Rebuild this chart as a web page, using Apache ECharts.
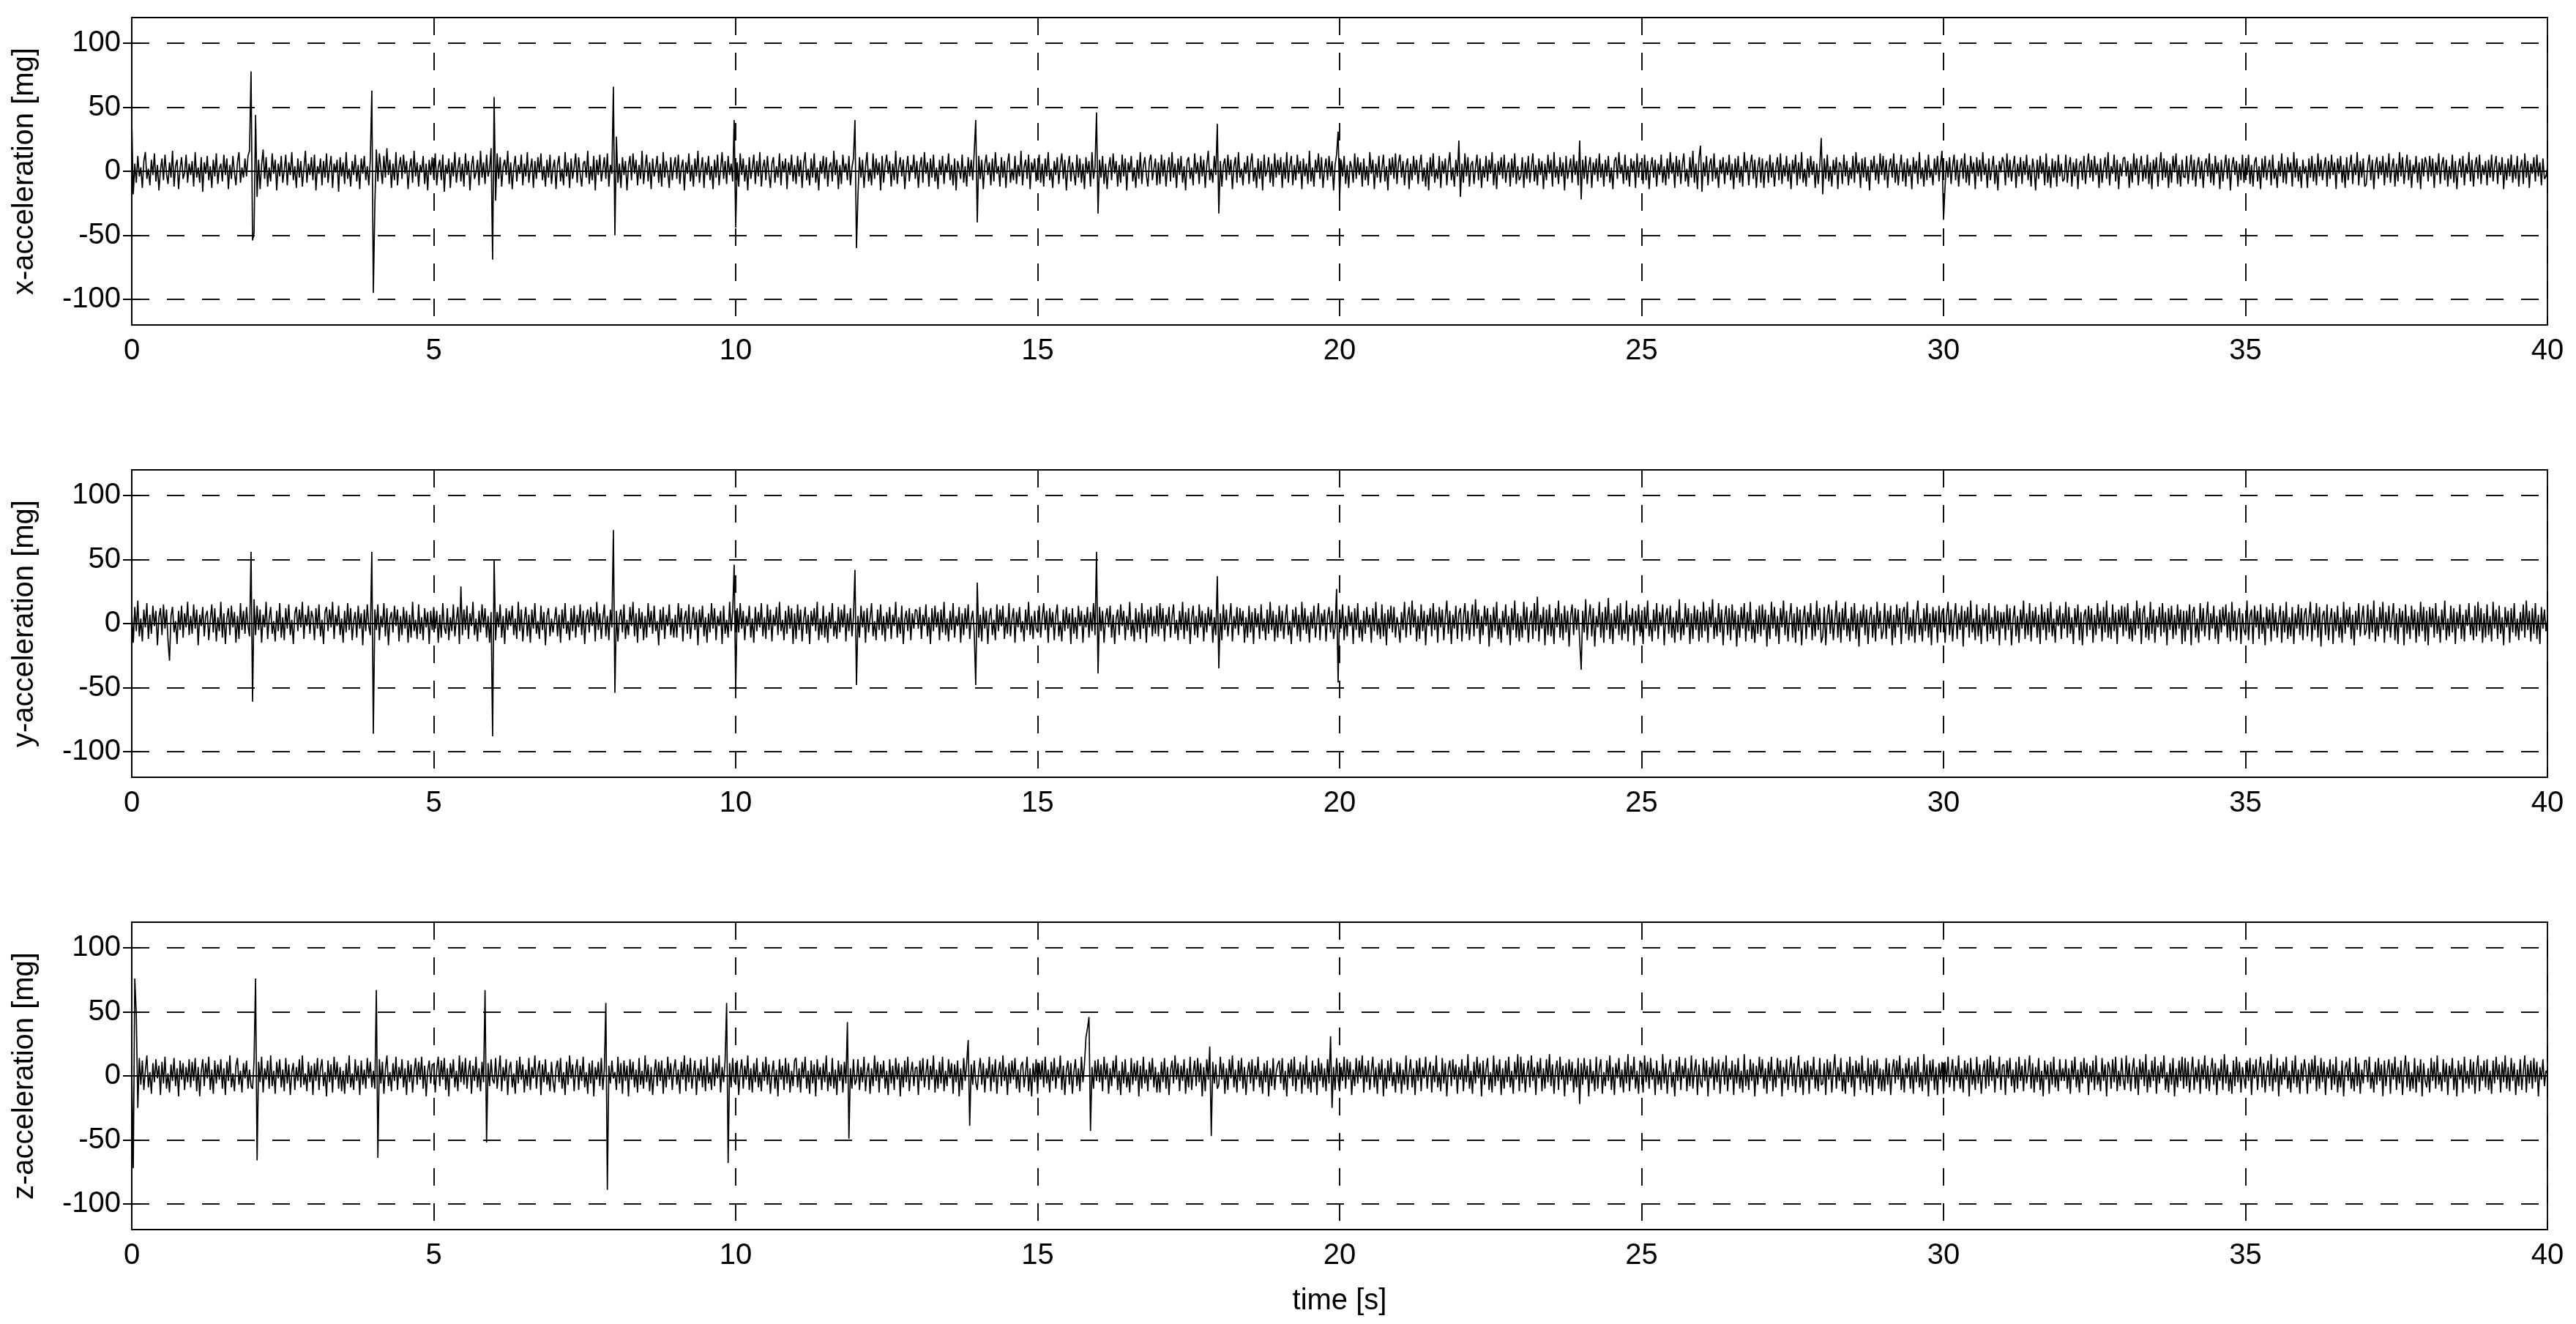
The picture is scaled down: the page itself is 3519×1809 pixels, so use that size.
<!DOCTYPE html>
<html>
<head>
<meta charset="utf-8">
<title>acceleration</title>
<script src="https://cdn.jsdelivr.net/npm/echarts@6/dist/echarts.min.js"></script>
<style>
  html, body { margin: 0; padding: 0; background: #fff; }
  #chart { width: 3519px; height: 1809px; }
</style>
</head>
<body>
<div id="chart"></div>
<script>
// one row per second, 40 samples in a row (0.025 s apart)
const timeTicks = [0, 5, 10, 15, 20, 25, 30, 35, 40];
const accelTicks = [-100, -50, 0, 50, 100];
const panelNames = ["x-acceleration [mg]", "y-acceleration [mg]", "z-acceleration [mg]"];

const xAccel = [
  [40,-18,6,-9,12,-4,3,-13,8,15,-6,2,-11,9,-3,14,-8,5,-15,1,10,-7,13,-2,-10,7,-5,16,-12,4,9,-14,2,11,-6,-1,13,-9,6,-3],
  [8,-12,15,-5,3,-9,11,-16,7,-2,12,-7,4,-13,9,-4,14,-10,2,6,-8,13,-3,10,-14,5,-6,12,-1,-11,7,15,-9,3,-5,10,-4,12,16,78],
  [-54,-48,44,-20,9,-14,5,17,-6,11,-12,3,-8,14,-2,9,-15,6,-4,12,-9,1,13,-11,7,-3,15,-7,4,-13,10,-5,8,-12,2,16,-9,6,-3,11],
  [-7,13,-15,4,-2,10,-11,8,-5,14,-9,3,12,-13,6,-1,9,-16,11,-4,7,-10,15,-6,2,-12,8,-3,13,-8,5,-14,10,-2,12,-7,4,-11,9,63],
  [-95,-26,17,-8,14,2,-10,12,-5,18,-3,9,-13,6,-7,15,-11,4,11,-6,13,-2,8,-14,3,10,-9,16,-4,7,-12,5,-1,12,-10,6,-15,9,-3,11],
  [-6,14,-11,3,9,-7,13,-16,5,-2,10,-13,7,-4,15,-9,2,11,-8,6,-12,14,-3,8,-15,4,12,-6,-1,9,-11,16,-5,7,-10,13,-4,2,18,-69],
  [58,-23,14,-6,11,-12,4,9,-3,16,-10,7,-14,3,12,-8,5,-2,13,-11,6,-4,15,-9,2,10,-13,8,-6,11,-1,14,-7,4,-12,9,-5,13,-10,3],
  [9,-14,5,12,-8,2,-11,15,-4,7,-13,10,-6,3,14,-9,11,-2,-12,6,8,-5,16,-10,4,-7,12,-15,9,-3,13,-8,1,11,-6,14,-12,5,-2,66],
  [-50,27,-9,6,-13,11,-3,8,-15,4,12,-7,14,-2,9,-11,5,-6,16,-10,3,13,-8,7,-14,10,-4,2,12,-9,6,-12,15,-5,8,-1,-13,11,-7,4],
  [11,-6,13,-10,3,9,-15,7,-2,14,-8,5,-12,10,-4,16,-9,2,11,-13,7,-3,12,-7,4,-14,9,-5,13,-11,2,15,-6,8,-10,12,-3,6,-8,40],
  [-44,7,-12,14,-3,10,-8,5,-15,11,-6,2,13,-10,8,-4,15,-12,3,9,-7,12,-2,-13,6,11,-9,4,-5,14,-11,8,-1,10,-14,7,-3,13,-8,5],
  [-10,12,-4,9,-13,6,15,-7,2,-11,10,-5,14,-9,3,-15,8,-2,12,-6,11,-12,4,7,-8,16,-3,9,-14,5,-10,13,-1,6,-7,12,-11,3,10,40],
  [-60,-18,11,-5,9,-13,4,15,-8,2,-11,14,-6,10,-3,7,-15,12,-9,5,13,-2,8,-12,6,-7,16,-10,3,11,-4,9,-14,2,12,-8,5,-1,13,-6],
  [8,-13,4,11,-9,15,-2,7,-12,10,-5,13,-8,3,-14,9,-3,12,-10,6,-1,14,-7,5,-11,10,-15,8,2,-6,13,-9,4,-12,11,-4,9,-7,15,40],
  [-40,12,-6,9,-14,5,13,-3,7,-11,10,-8,15,-2,4,-12,11,-5,8,-13,6,14,-9,2,-7,12,-10,5,-4,16,-11,3,9,-6,13,-14,7,-1,10,-8],
  [4,13,-9,6,-12,10,-4,15,-7,2,-13,8,-3,11,-10,5,14,-6,9,-15,3,12,-8,7,-1,-11,13,-5,10,-9,6,-14,11,-2,8,-12,15,-6,3,46],
  [-33,9,-5,12,-10,6,-14,3,11,-7,14,-2,8,-12,5,-9,13,-4,10,-15,7,-1,12,-8,3,-13,9,-6,15,-10,4,11,-3,-12,8,13,-7,2,10,-11],
  [7,-10,13,-4,9,-12,2,11,-8,15,-5,6,-13,10,-3,12,-9,4,-15,8,11,-6,3,-11,14,-2,7,-10,12,-4,9,-13,5,16,-7,2,-9,12,-3,37],
  [-33,8,-12,5,10,-7,13,-3,9,-14,4,11,-9,15,-5,2,-11,7,-2,12,-10,6,14,-8,3,-13,10,-6,8,-15,13,-4,1,11,-9,6,-12,14,-5,9],
  [-3,11,-13,7,-6,15,-9,4,12,-11,5,-7,13,-2,8,-14,10,-4,6,-10,16,-8,3,-12,9,-1,14,-6,11,-13,2,10,-7,12,-4,8,-15,5,13,31],
  [-21,9,-4,12,-10,5,-13,8,3,-9,14,-6,11,-3,7,-12,10,-7,4,-11,15,-2,9,-14,6,-5,12,-9,2,13,-8,4,-15,10,-3,11,-6,14,-10,7],
  [13,-5,8,-11,4,10,-14,6,-7,12,-3,9,-10,5,13,-8,3,-12,7,-15,11,-4,14,-9,2,-6,12,-13,8,-2,10,-11,5,15,-7,3,-12,9,-4,24],
  [-20,6,-9,14,-4,11,-12,5,8,-10,3,13,-7,10,-13,4,-5,12,-8,9,-2,15,-11,6,-14,8,-3,11,-6,13,-9,2,7,-12,10,-5,14,-10,4,-7],
  [-4,11,-13,7,-6,12,-9,3,14,-8,5,-11,10,-3,8,-14,6,-7,13,-2,9,-12,15,-5,4,-10,11,-4,7,-15,12,-6,2,10,-9,13,-3,8,-11,24],
  [-22,9,-6,12,-10,4,11,-13,7,-3,10,-8,14,-5,6,-12,9,-4,12,-9,3,-14,8,11,-6,15,-2,5,-10,13,-7,4,-12,10,-1,8,-13,14,-5,7],
  [5,-10,13,-7,8,-14,3,11,-5,9,-12,6,-3,13,-9,4,-11,10,-6,15,-2,7,-13,12,-4,9,-10,5,14,-8,2,-12,11,-5,16,-9,6,-14,10,20],
  [-16,7,-4,12,-11,5,10,-8,14,-6,3,-13,9,-2,11,-10,7,-3,13,-7,6,-14,10,-5,12,-9,4,-12,15,-1,8,-11,5,13,-6,9,-13,3,11,-9],
  [10,-13,4,8,-9,13,-5,7,-12,3,11,-7,14,-10,5,-4,12,-8,6,-14,9,-2,13,-11,7,-6,15,-9,2,-12,10,-5,12,-3,8,-13,6,-10,4,26],
  [-18,10,-6,13,-8,4,-12,9,-3,11,-14,7,5,-10,13,-4,8,-11,3,-6,12,-9,15,-2,7,-13,10,-5,11,-8,4,-15,9,-1,12,-7,6,-10,14,-3],
  [12,-7,9,-13,4,10,-5,14,-9,6,-11,3,13,-8,7,-12,10,-4,5,-14,11,-2,8,-10,15,-6,3,-12,9,-7,13,-5,2,-11,10,-3,12,-8,6,16],
  [-38,-12,8,-5,11,-10,4,13,-7,9,-12,3,10,-6,14,-9,5,-11,12,-2,7,-14,11,-4,9,-8,15,-3,6,-13,10,-7,2,12,-10,5,-15,8,-1,11],
  [7,-11,14,-5,9,-8,3,12,-13,6,-4,11,-10,8,-3,13,-7,5,-12,10,2,-15,9,-6,12,-2,7,-11,14,-9,4,-13,10,-5,8,-12,13,-4,6,-8],
  [-6,13,-9,4,11,-12,7,-4,10,-14,5,8,-7,12,-10,3,14,-5,9,-8,12,-3,6,-13,10,-9,2,11,-6,15,-11,4,-2,13,-8,9,-14,6,-4,10],
  [11,-4,8,-13,6,-9,14,-3,10,-11,4,12,-8,5,-6,13,-10,7,-14,9,-2,11,-12,3,15,-7,10,-5,8,-13,6,-9,12,-1,14,-10,5,-12,9,-4],
  [-5,12,-10,3,13,-7,9,-12,4,11,-6,8,-13,5,10,-4,14,-9,6,-11,12,-2,7,-14,9,-8,3,13,-6,10,-15,4,11,-3,8,-12,6,-7,13,-9],
  [8,-3,13,-10,5,-12,7,11,-8,4,-14,10,-5,12,-7,3,9,-11,13,-6,2,-13,8,-4,14,-9,6,-10,11,-1,7,-12,15,-5,10,-8,4,-13,9,-2],
  [4,-13,10,-5,12,-8,6,-11,14,-4,9,-7,3,11,-12,8,-6,13,-3,7,-14,10,-2,12,-9,5,-13,11,-7,4,13,-10,6,-3,15,-11,8,-5,10,-12],
  [-10,5,13,-7,9,-14,4,11,-6,8,-3,12,-11,7,-5,14,-9,3,10,-12,6,-8,15,-4,11,-10,2,13,-7,9,-13,5,-2,12,-9,7,-14,10,-4,11],
  [6,-8,12,-4,10,-13,7,-3,14,-10,5,11,-7,9,-12,4,-6,13,-9,8,-14,3,10,-5,12,-11,6,-2,15,-8,9,-12,4,11,-6,13,-10,5,-3,8],
  [-11,9,-5,13,-8,4,12,-10,7,-3,11,-14,6,-7,10,-4,13,-9,5,-6,12,-12,3,9,-10,14,-5,8,-13,6,-2,11,-8,13,-4,7,-11,10,-6,-4],
  [3]
];

const yAccel = [
  [9,-15,13,-6,18,-10,4,-14,11,-3,16,-12,7,-8,14,-2,10,-17,5,12,-9,15,-4,11,-13,-29,6,13,-7,2,-16,10,-5,14,-11,8,-3,17,-9,6],
  [-8,15,-4,11,-17,7,-2,13,-10,6,10,-13,3,15,-7,12,-14,5,-6,17,-11,8,-16,4,12,-9,14,-3,9,-15,6,-12,16,-5,10,-8,13,-2,-10,56],
  [-61,19,-9,14,-5,11,-15,7,-3,17,-12,4,13,-8,2,-14,10,-6,16,-11,5,-13,12,-4,15,-9,3,-16,8,13,-6,11,-3,17,-12,7,-2,14,-8,10],
  [5,-13,12,-4,15,-10,3,-16,9,13,-6,11,-3,17,-12,7,-2,14,-9,4,-15,10,-7,16,-5,12,-13,2,9,-11,14,-4,8,-17,11,-6,15,-2,-9,56],
  [-86,11,-5,15,-13,6,-3,16,-10,12,-17,4,9,-7,14,-2,11,-14,6,-9,13,-4,10,-15,7,-11,17,-6,3,-12,15,-8,5,-13,12,-3,9,-16,10,-5],
  [13,-4,10,-15,7,-11,16,-3,-8,12,-13,5,-6,15,-10,3,13,-16,29,-9,11,-5,14,-12,8,-2,17,-9,4,-14,10,-7,15,-3,12,-11,6,-15,9,-88],
  [50,-13,9,-3,15,-11,6,-16,12,-5,10,-2,14,-9,4,-12,17,-6,11,-14,3,13,-10,7,-15,11,-4,16,-8,2,-12,14,-5,9,-17,6,12,-10,4,-7],
  [3,13,-10,7,-15,11,-4,16,-8,2,-13,12,-6,14,-11,7,-3,15,-9,10,-16,5,11,-7,13,-2,9,-14,17,-5,8,-12,4,15,-10,6,-13,11,-3,73],
  [-54,10,-14,5,11,-7,15,-12,3,-9,13,-2,17,-10,8,-15,12,-4,9,-13,6,-11,16,-3,10,-8,14,-6,2,-17,11,-5,13,-12,7,-2,15,-9,4,-11],
  [7,-11,16,-3,12,-14,4,10,-8,15,-12,2,13,-5,9,-17,11,-3,14,-10,5,-15,8,-7,16,-4,12,-13,6,-2,10,-16,14,-8,3,-11,17,-6,9,46],
  [-52,12,-7,16,-4,10,-13,6,-2,14,-11,4,-15,13,-6,9,-3,16,-10,5,-12,15,-5,11,-14,7,-2,13,-9,17,-6,3,-13,10,-8,14,-4,12,-16,8],
  [-12,15,-5,11,-14,3,13,-8,7,-16,10,-2,12,-6,17,-13,4,-9,14,-11,6,-15,9,-4,16,-10,2,-12,13,-7,11,-3,15,-14,8,-6,12,-10,5,42],
  [-48,6,-11,14,-3,10,-15,12,-7,4,16,-10,2,-13,11,-5,15,-9,6,-14,9,-4,13,-12,7,-2,17,-11,5,-8,14,-16,3,10,-6,12,-13,8,-4,11],
  [10,-4,13,-12,7,-2,15,-10,5,-16,12,-6,14,-3,9,-13,11,-7,17,-9,4,-14,10,-5,16,-11,6,-2,13,-15,8,-9,12,-4,15,-12,3,10,-7,-48],
  [32,-11,7,-14,13,-4,10,-16,6,12,-9,3,-13,15,-6,11,-2,14,-12,5,-8,16,-10,4,12,-15,9,-3,13,-7,2,-14,11,-5,17,-9,6,-12,10,-4],
  [-7,14,-11,4,16,-5,10,-15,12,-3,9,-13,6,15,-10,2,-14,11,-6,13,-4,8,-16,12,-8,5,-12,14,-2,10,-15,7,-3,13,-11,9,-6,16,-9,56],
  [-39,13,-6,10,-15,5,12,-3,14,-11,7,-16,4,11,-9,15,-2,10,-13,6,-5,17,-10,3,-14,12,-7,9,-12,16,-4,8,-15,11,-3,13,-10,6,-8,14],
  [-10,16,-4,12,-14,7,-2,13,-11,5,15,-8,3,-13,10,-5,17,-12,9,-6,12,-16,4,14,-9,6,-11,15,-3,10,-14,8,-7,13,-2,11,-15,5,-9,37],
  [-35,8,-13,15,-5,11,-10,3,16,-14,6,-4,13,-9,12,-2,10,-15,5,-11,14,-7,9,-16,12,-3,8,-12,15,-6,4,-13,11,-8,17,-5,10,-14,7,-11],
  [14,-6,10,-12,4,15,-9,2,-16,11,-3,13,-10,7,-14,17,-5,12,-8,6,-15,9,-4,14,-11,3,16,-13,8,-2,11,-14,5,13,-7,10,-12,-3,27,-46],
  [11,-4,15,-13,6,-10,14,-2,9,-16,12,-5,16,-11,3,-14,10,-8,13,-3,7,-15,12,-6,17,-9,4,-12,15,-10,8,-17,11,-4,14,-7,13,-11,5,-2],
  [-15,9,-5,17,-11,4,13,-9,18,-3,11,-14,6,-12,15,-6,10,-17,7,-2,12,-10,16,-5,9,-15,13,-3,11,-13,5,18,-8,10,-16,7,-4,14,-12,8],
  [12,-14,5,16,-8,10,-13,3,15,-10,19,-4,11,-16,6,-9,14,-2,12,-18,7,-11,13,-6,17,-12,4,-15,10,-3,15,-9,6,-17,12,-5,18,-11,8,-14],
  [6,-11,17,-5,13,-15,3,10,-12,16,-6,21,-14,7,-4,13,-17,11,-9,15,-10,5,-16,12,-3,18,-11,8,-13,14,-7,10,-18,6,15,-9,12,-5,11,-13],
  [-36,10,-7,19,-13,5,15,-10,12,-18,6,-3,17,-11,9,-15,13,-5,20,-12,8,-16,11,-4,14,-9,16,-13,3,-8,18,-14,7,-2,12,-17,10,-6,15,-10],
  [7,-16,13,-4,18,-10,3,-14,11,-6,16,-12,9,-2,15,-17,6,12,-8,14,-11,5,-15,10,-7,19,-13,4,-9,16,-3,12,-16,8,-12,14,-5,11,-14,9],
  [-11,17,-6,10,-15,13,-3,19,-12,5,-10,16,-7,11,-17,4,14,-9,12,-13,15,-5,10,-18,7,-11,13,-4,16,-14,9,-6,17,-12,3,-15,11,-8,14,-10],
  [15,-5,11,-18,7,-12,17,-4,13,-10,6,-16,12,-3,18,-9,10,-14,5,16,-11,8,-15,13,-6,11,-17,4,14,-12,9,-3,16,-13,7,-10,18,-5,12,-15],
  [-10,13,-17,6,15,-8,11,-13,3,18,-11,9,-15,12,-5,17,-10,4,-14,13,-6,16,-12,8,-18,10,-3,15,-9,11,-16,5,13,-11,7,-14,17,-4,10,-12],
  [-6,16,-12,10,-4,14,-17,7,-11,15,-3,12,-16,9,13,-8,17,-13,5,-10,11,-15,6,18,-9,4,-14,12,-6,16,-11,8,-17,13,-3,10,-15,14,-7,9],
  [12,-15,6,17,-9,11,-14,4,16,-12,8,-5,14,-18,10,-3,13,-11,18,-7,4,-13,15,-10,7,-16,12,-2,11,-14,16,-8,5,-12,14,-6,10,-17,9,-4],
  [9,-13,15,-5,12,-17,3,14,-10,6,-15,11,-4,18,-12,8,-9,16,-14,10,-3,13,-11,7,-16,15,-5,9,-13,12,-7,17,-10,4,-15,11,-2,14,-12,8],
  [-4,17,-11,13,-8,5,-16,12,-3,15,-13,9,-17,6,11,-10,14,-5,12,-15,7,-9,16,-4,10,-14,13,-7,18,-11,5,-12,15,-6,9,-16,11,-3,14,-10],
  [13,-6,16,-12,4,-14,10,-9,18,-4,12,-16,8,14,-11,5,-13,17,-8,11,-15,6,-3,13,-10,16,-7,9,-17,12,-5,14,-12,7,-9,15,-4,11,-16,10],
  [-14,10,-5,15,-17,9,13,-11,4,-15,16,-6,12,-10,3,17,-13,8,-4,14,-12,6,-16,11,-7,13,-2,15,-11,9,-14,17,-6,10,-13,4,12,-16,8,-5],
  [-9,18,-13,6,11,-16,14,-3,10,-12,15,-8,5,-17,13,-4,11,-14,16,-6,9,-11,3,14,-15,10,-7,17,-12,5,-10,13,-16,8,-4,15,-9,12,-13,7],
  [12,-10,4,17,-14,8,-5,16,-11,13,-18,6,10,-9,15,-13,3,12,-16,9,-6,14,-11,5,-15,17,-8,11,-3,13,-12,7,-17,10,-5,16,-10,4,14,-9],
  [-5,15,-12,11,-7,18,-14,5,-10,13,-4,17,-15,9,-6,14,-11,4,16,-13,8,-16,12,-3,10,-17,15,-8,6,-12,14,-5,11,-15,9,-10,17,-6,13,-14],
  [10,-17,13,-3,12,-11,16,-8,6,-15,11,-5,18,-13,4,-10,14,-7,12,-16,9,-4,15,-12,7,-14,11,-2,16,-9,5,-13,14,-10,17,-6,12,-15,8,-11],
  [15,-9,6,-14,17,-4,11,-12,14,-8,5,-17,13,-3,10,-15,12,-7,16,-10,4,-13,9,-6,15,-11,18,-5,10,-14,12,-8,16,-12,7,-16,13,-4,11,-6],
  [4]
];

const zAccel = [
  [5,-72,76,48,-25,14,-7,12,-11,4,16,-9,3,-14,10,-5,13,-2,8,-15,11,-6,15,-10,2,-13,9,-4,14,-8,6,-16,12,-3,10,-11,7,-5,13,-9],
  [11,-4,14,-12,7,-16,3,13,-8,10,-2,15,-11,5,-14,12,-6,9,-3,13,-10,6,-15,11,-4,16,-9,2,-12,8,14,-7,4,-13,10,-2,12,-10,5,-8],
  [-10,12,76,-66,11,-5,15,-13,6,-3,12,-10,16,-8,4,-14,11,-2,13,-9,5,-12,14,-6,9,-15,3,10,-11,7,-4,13,-9,16,-7,2,-12,11,-5,8],
  [-15,10,-4,14,-11,6,13,-8,3,-16,12,-5,9,-13,15,-3,11,-10,7,-12,4,-14,10,-6,16,-9,2,-11,13,-4,8,-15,12,-7,5,-10,14,-2,11,-9],
  [4,-10,67,-64,13,-6,11,-14,5,16,-8,3,-12,10,-4,15,-11,7,-2,13,-9,6,-15,12,-5,9,-13,3,14,-7,11,-3,15,-10,8,-16,4,12,-6,9],
  [9,-13,5,15,-8,12,-3,14,-11,6,-16,10,-2,13,-9,4,-12,16,-5,11,-7,14,-10,3,12,-14,8,-4,15,-9,6,-12,11,-5,67,-52,10,-8,13,-3],
  [-6,14,-10,3,16,-12,7,-4,13,-15,6,11,-9,2,-14,12,-6,15,-3,9,-13,5,-8,14,-11,7,-2,16,-10,4,12,-15,9,-5,13,-7,3,-12,11,-4],
  [-13,6,12,-5,14,-10,3,-15,11,-7,16,-2,9,-12,5,13,-11,8,-4,15,-9,3,-14,10,-6,12,-16,7,-3,11,-8,14,-11,5,57,-89,8,-6,12,-2],
  [3,-11,15,-6,10,-14,12,-4,8,-16,13,-3,11,-9,5,-13,14,-7,4,-10,16,-5,9,-12,7,-15,2,13,-8,11,-4,12,-14,6,-9,15,-3,10,-11,5],
  [13,-7,5,-14,11,-3,16,-12,9,-5,14,-10,2,12,-15,6,-4,13,-9,8,-12,15,-6,3,-11,14,-8,10,-2,16,-13,7,-5,12,57,-68,10,-9,14,-4],
  [-6,12,-15,4,13,-10,8,-3,16,-11,6,-13,10,-5,14,-9,3,-12,11,-4,15,-7,9,-14,2,12,-10,5,-16,13,-3,8,-11,14,-6,10,-13,4,-8,12],
  [14,-9,6,-13,11,-2,15,-10,4,-14,12,-6,9,-16,13,-3,7,-11,10,-5,16,-12,3,-8,14,-10,5,-15,12,-4,9,-13,11,-6,42,-49,6,-10,13,-7],
  [-3,13,-11,7,-5,15,-12,3,10,-14,6,-8,16,-4,11,-13,9,-2,12,-10,4,-15,13,-6,8,-11,14,-3,10,-16,7,-9,12,-5,15,-12,3,11,-8,6],
  [7,-15,12,-4,14,-9,2,13,-11,8,-3,16,-13,5,-10,11,-6,15,-12,4,-8,13,-2,10,-14,9,-5,12,-16,6,-11,14,-4,10,28,-39,9,-7,12,-5],
  [-11,4,14,-7,10,-13,6,-2,15,-12,9,-5,13,-14,3,11,-8,16,-4,7,-15,10,-6,12,-3,14,-10,5,-13,8,11,-9,2,15,-12,6,-16,10,-5,13],
  [-14,10,-3,12,-9,15,-6,5,-13,11,-4,14,-10,7,-2,16,-11,8,-15,4,12,-7,10,-14,3,13,-8,6,-12,15,-5,9,30,37,46,-43,7,-10,12,-4],
  [13,-5,9,-12,15,-3,10,-14,6,-8,12,-2,16,-11,4,-15,11,-6,13,-9,3,-13,14,-7,10,-4,12,-16,8,-10,15,-6,5,-12,11,-3,14,-9,7,-13],
  [3,-13,11,-5,14,-10,7,-15,4,12,-6,16,-3,10,-12,8,-4,13,-14,6,-9,15,-11,2,12,-8,14,-5,10,-16,7,-12,13,-3,23,-47,11,-6,9,-10],
  [-7,15,-3,10,-14,6,-11,13,-2,16,-9,5,-13,12,-4,14,-10,7,-15,3,11,-6,13,-12,8,-3,15,-9,4,-14,10,-5,12,-16,6,-8,14,-11,3,9],
  [12,-6,14,-11,4,-16,10,-2,13,-8,15,-12,5,-3,11,-14,9,-7,16,-10,3,-13,12,-5,8,-15,14,-4,10,-9,6,-12,13,-6,31,-25,7,-11,14,-3],
  [-12,7,-4,15,-10,13,-3,11,-15,5,-8,14,-6,12,-2,16,-13,8,-5,12,-11,4,15,-9,7,-14,10,-3,13,-16,6,-10,12,-4,14,-8,3,-13,11,-6],
  [10,-14,5,-7,16,-11,3,13,-9,6,-15,12,-4,14,-12,7,-2,15,-10,4,11,-13,8,-5,16,-9,3,-12,14,-6,10,-16,5,12,-8,13,-3,9,-14,7],
  [-3,13,-12,8,-5,17,-10,4,-14,11,-6,15,-2,10,-16,12,-7,5,14,-11,3,-13,16,-8,9,-4,13,-15,6,-10,12,-5,15,-9,4,-14,11,-3,17,-12],
  [15,-6,10,-13,3,12,-9,16,-4,7,-15,11,-2,14,-12,6,-10,13,-5,17,-8,9,-14,4,12,-11,15,-3,8,-16,10,-7,13,-4,11,-13,6,-9,14,-22],
  [10,-7,14,-3,8,-16,13,-6,4,-12,15,-10,6,13,-14,3,-8,12,-4,16,-11,7,-15,10,-2,14,-9,5,-13,11,-6,17,-12,8,-3,15,-10,4,-14,12],
  [7,-13,16,-5,11,-10,14,-3,6,-15,12,-7,4,-11,17,-6,10,-14,5,13,-9,3,-16,12,-4,15,-11,8,-2,14,-12,6,-8,16,-10,4,13,-15,9,-5],
  [-9,14,-4,12,-16,7,-2,15,-11,10,-5,13,-14,3,11,-7,16,-12,6,-3,12,-15,9,-6,14,-10,4,-13,17,-8,5,-11,13,-4,10,-16,8,-7,15,-2],
  [13,-10,6,-14,11,-4,15,-12,5,-9,14,-2,12,-16,7,-6,13,-11,4,15,-8,10,-13,3,16,-9,6,-15,11,-4,12,-14,8,-3,15,-10,5,-12,14,-7],
  [-6,10,-15,13,-3,11,-13,5,17,-10,7,-4,14,-12,3,-14,11,-5,15,-9,8,-16,12,-2,10,-11,16,-6,4,-13,14,-8,9,-15,12,-3,13,-10,6,-12],
  [5,-12,14,-7,10,-15,4,13,-6,12,-3,16,-11,6,-13,10,-2,14,-10,8,-14,11,-5,15,-9,3,-12,17,-7,9,-16,12,-4,13,-11,7,-15,10,-3,11],
  [-14,11,-5,15,-9,3,13,-12,8,-4,16,-10,6,-13,12,-3,10,-16,14,-7,5,-11,15,-6,9,-14,3,12,-10,13,-8,16,-4,11,-13,6,-2,15,-11,8],
  [9,-15,12,-2,14,-8,5,-13,11,-10,15,-4,8,-12,13,-6,3,16,-10,10,-13,7,-5,14,-11,4,-16,12,-3,9,-14,11,-7,15,-9,5,-12,13,-4,6],
  [-4,13,-10,6,-14,12,-3,15,-9,5,-13,11,-6,14,-2,10,-15,8,-5,12,-11,16,-7,3,-12,14,-4,9,-16,11,6,-10,13,-5,15,-12,4,-8,14,-3],
  [-11,16,-6,10,-12,4,14,-10,7,-15,13,-3,11,-8,17,-13,5,-9,12,-4,15,-14,8,-6,11,-2,16,-11,3,-13,10,-7,14,-16,6,-9,12,-4,15,-10],
  [14,-8,11,-13,3,15,-11,7,-5,13,-14,9,-3,16,-10,8,-12,4,14,-7,10,-15,6,-4,13,-11,17,-6,9,-12,3,-14,12,-8,15,-5,11,-13,7,-2],
  [-10,12,-4,14,-15,9,-2,13,-11,5,15,-9,10,-13,3,12,-8,17,-12,6,-5,14,-16,8,-7,11,-3,15,-10,4,-13,12,-6,16,-9,5,-14,10,-4,13],
  [4,-14,10,-6,13,-3,16,-12,8,-10,14,-5,11,-15,7,-2,13,-11,9,-7,15,-13,4,-9,12,-16,6,11,-4,14,-10,3,-12,15,-8,10,-14,5,-6,12],
  [12,-5,15,-10,3,-13,11,-7,14,-4,9,-16,12,-8,5,13,-14,10,-3,15,-11,7,-6,12,-15,4,16,-9,11,-12,3,-10,14,-13,8,-5,13,-16,10,-4],
  [-9,6,-13,14,-4,11,-10,16,-7,3,-12,13,-5,10,-15,8,-2,14,-11,6,-16,12,-3,9,-13,15,-6,4,-10,13,-7,11,-14,5,16,-12,8,-4,12,-9],
  [13,-11,4,-14,12,-6,15,-3,9,-13,11,-5,16,-10,7,-12,14,-4,10,-15,5,-8,13,-11,3,16,-13,9,-6,12,-10,14,-5,11,-16,7,-3,13,-8,4],
  [2]
];

// turn "one row per second" into [time, value] pairs
function toPoints(rows) {
  const points = [];
  rows.forEach((row, sec) => {
    row.forEach((v, j) => {
      points.push([sec + j / row.length, v]);
    });
  });
  return points;
}

const panels = [xAccel, yAccel, zAccel];
const panelTops = [24, 642, 1260];
const font = "Liberation Sans";
const dash = [24, 24];

const grids = [];
const xAxes = [];
const yAxes = [];
const series = [];

panels.forEach((rows, i) => {
  grids.push({
    left: 180,
    right: 39,
    top: panelTops[i],
    height: 420,
    show: true,
    borderColor: "#000",
    borderWidth: 2,
    backgroundColor: "#fff",
  });
  // bottom axis with labels
  xAxes.push({
    gridIndex: i,
    type: "value",
    min: 0,
    max: 40,
    interval: 5,
    name: i === 2 ? "time [s]" : "",
    nameLocation: "middle",
    nameGap: 78,
    nameTextStyle: { fontFamily: font, fontSize: 40, color: "#000" },
    axisLine: { show: true, lineStyle: { color: "#000", width: 2 } },
    axisTick: { show: true, inside: true, length: 12, customValues: timeTicks, lineStyle: { color: "#000", width: 2 } },
    axisLabel: { fontFamily: font, fontSize: 40, color: "#000", margin: 16 },
    splitLine: { show: true, lineStyle: { color: "#111", width: 2, type: dash } },
  });
  // top axis, ticks only
  xAxes.push({
    gridIndex: i,
    type: "value",
    position: "top",
    min: 0,
    max: 40,
    interval: 5,
    axisLine: { show: true, lineStyle: { color: "#000", width: 2 } },
    axisTick: { show: true, inside: true, length: 12, lineStyle: { color: "#000", width: 2 } },
    axisLabel: { show: false },
    splitLine: { show: false },
  });
  yAxes.push({
    gridIndex: i,
    type: "value",
    min: -120,
    max: 120,
    splitNumber: 5,
    name: panelNames[i],
    nameLocation: "middle",
    nameRotate: 90,
    nameGap: 126,
    nameTextStyle: { fontFamily: font, fontSize: 40, color: "#000" },
    axisLine: { show: true, lineStyle: { color: "#000", width: 2 } },
    axisTick: { show: true, inside: true, length: 12, customValues: accelTicks, lineStyle: { color: "#000", width: 2 } },
    axisLabel: { fontFamily: font, fontSize: 40, color: "#000", margin: 15, customValues: accelTicks },
    splitLine: { show: true, lineStyle: { color: "#111", width: 2, type: dash } },
  });
  yAxes.push({
    gridIndex: i,
    type: "value",
    position: "right",
    min: -120,
    max: 120,
    axisLine: { show: true, lineStyle: { color: "#000", width: 2 } },
    axisTick: { show: true, inside: true, length: 12, customValues: accelTicks, lineStyle: { color: "#000", width: 2 } },
    axisLabel: { show: false },
    splitLine: { show: false },
  });
  series.push({
    type: "line",
    xAxisIndex: i * 2,
    yAxisIndex: i * 2,
    data: toPoints(rows),
    showSymbol: false,
    symbol: "none",
    sampling: null,
    lineStyle: { color: "#000", width: 1.7 },
    silent: true,
  });
});

const chart = echarts.init(document.getElementById("chart"), null, { renderer: "canvas" });
chart.setOption({
  animation: false,
  backgroundColor: "#fff",
  textStyle: { fontFamily: font },
  grid: grids,
  xAxis: xAxes,
  yAxis: yAxes,
  series: series,
});
</script>
</body>
</html>
